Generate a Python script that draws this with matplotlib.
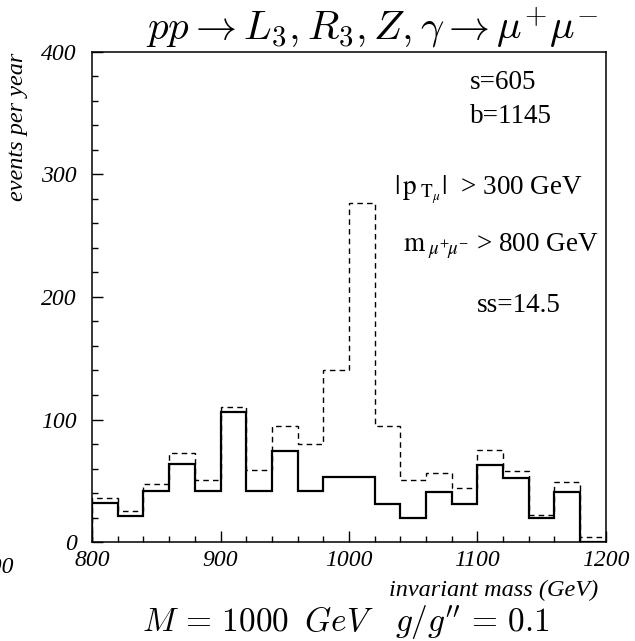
import matplotlib
matplotlib.use("Agg")
import matplotlib.pyplot as plt
import numpy as np

# Data
bin_edges = list(range(800, 1201, 20))
background = [32, 21, 42, 64, 42, 106, 42, 74, 42, 53,
              53, 31, 20, 41, 31, 63, 52, 20, 41, 0]
signal_plus_bg = [36, 25, 47, 73, 51, 110, 59, 95, 80, 140,
                  277, 95, 51, 56, 44, 75, 58, 22, 49, 4]
x_ticks = [800, 900, 1000, 1100, 1200]
y_ticks = [0, 100, 200, 300, 400]

plt.rcParams['mathtext.fontset'] = 'stix'
serif = 'Liberation Serif'

fig = plt.figure(figsize=(6.35, 6.41), dpi=100)
ax = fig.add_axes([0.145, 0.1544, 0.809, 0.7646])

ax.stairs(signal_plus_bg, bin_edges, baseline=0, color='black', lw=1.0,
          linestyle=(0, (4, 3)))
ax.stairs(background, bin_edges, baseline=0, color='black', lw=1.6)

ax.set_xlim(800, 1200)
ax.set_ylim(0, 400)
ax.set_xticks(x_ticks)
ax.set_yticks(y_ticks)
ax.set_xticks(np.arange(800, 1201, 20), minor=True)
ax.set_yticks(np.arange(0, 401, 20), minor=True)
ax.tick_params(which='both', direction='in', top=False, right=False, width=1.0)
ax.tick_params(which='major', length=8)
ax.tick_params(which='minor', length=4)
ax.tick_params(axis='x', pad=6)
ax.tick_params(axis='y', pad=11)
for lab in ax.get_xticklabels() + ax.get_yticklabels():
    lab.set_fontfamily(serif)
    lab.set_fontstyle('italic')
    lab.set_fontsize(17)
for sp in ax.spines.values():
    sp.set_linewidth(1.1)

# Title and labels
fig.text(0.586, 0.956, r'$pp \to L_3, R_3, Z, \gamma \to \mu^{+}\mu^{-}$',
         ha='center', va='center', fontsize=29.5, math_fontfamily='cm')
fig.text(0.027, 0.802, 'events per year', rotation=90, ha='center', va='center',
         family=serif, style='italic', fontsize=17.5)
fig.text(0.942, 0.079, 'invariant mass (GeV)', ha='right', va='center',
         family=serif, style='italic', fontsize=17.5)
fig.text(0.545, 0.030, r"$M\,=\,1000\;\;GeV\quad g/g''\,=\,0.1$",
         ha='center', va='center', fontsize=24, math_fontfamily='cm')
fig.text(0.021, 0.114, '1200', ha='right', va='center',
         family=serif, style='italic', fontsize=17)

# Annotations
fig.text(0.740, 0.872, 's=605', ha='left', va='center', family=serif, fontsize=19.5)
fig.text(0.740, 0.818, 'b=1145', ha='left', va='center', family=serif, fontsize=19.5)
fig.text(0.620, 0.703, r'$|\,\mathrm{p}_{\;\mathrm{T}_{\mu}}|$  > 300 GeV',
         ha='left', va='center', family=serif, fontsize=19.5)
fig.text(0.634, 0.615, r'$\mathrm{m}_{\;\mu^{+}\!\mu^{-}}$ > 800 GeV',
         ha='left', va='center', family=serif, fontsize=19.5)
fig.text(0.751, 0.524, 'ss=14.5', ha='left', va='center', family=serif, fontsize=19.5)

fig.savefig('out.png', dpi=100)
